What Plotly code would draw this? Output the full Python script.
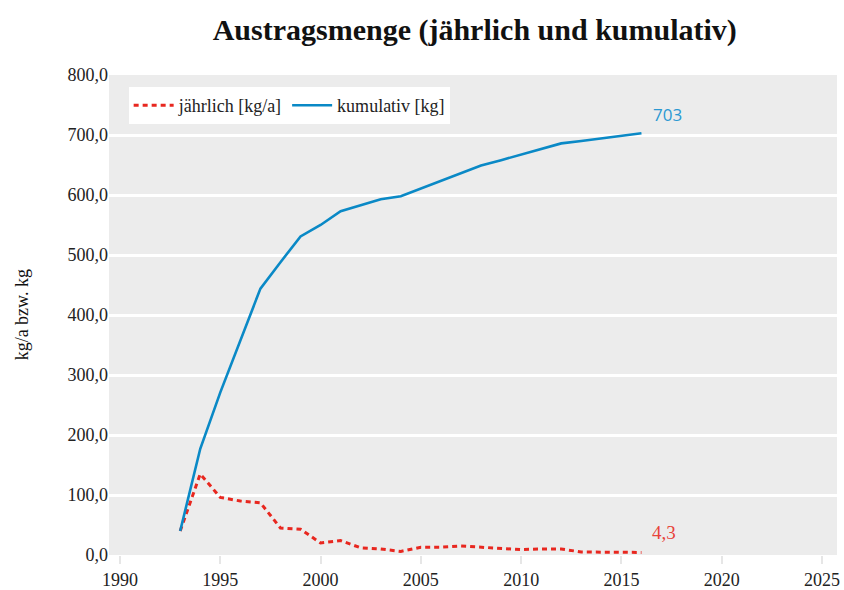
import plotly.graph_objects as go

years = list(range(1993, 2017))
annual = [40, 135, 96, 90, 87, 45, 43, 20, 24, 12, 10, 6, 13, 13, 15, 13, 10, 9, 10, 10, 5, 5, 5, 4.3]
cumulative = [40, 177, 271, 357, 444, 488, 531, 550, 573, 583, 593, 598, 611, 623, 637, 649, 658, 667, 676, 686, 690, 694, 699, 703]
x_ticks = [1990, 1995, 2000, 2005, 2010, 2015, 2020, 2025]
y_ticks = [0, 100, 200, 300, 400, 500, 600, 700, 800]

RED = "#e8271f"
BLUE = "#0a89c6"
SERIF = "Liberation Serif"

fig = go.Figure()
fig.add_trace(go.Scatter(
    x=years, y=annual, mode="lines", name="jährlich [kg/a]",
    line=dict(color=RED, width=3, dash="5px,4px"),
))
fig.add_trace(go.Scatter(
    x=years, y=cumulative, mode="lines", name="kumulativ [kg]",
    line=dict(color=BLUE, width=2.6),
))

fig.add_annotation(x=years[-1], y=cumulative[-1], text="703", showarrow=False,
                   xshift=26, yshift=19, font=dict(family="Open Sans", size=17, color="#2a98d2"))
fig.add_annotation(x=years[-1], y=annual[-1], text="4,3", showarrow=False,
                   xshift=23, yshift=20, font=dict(family=SERIF, size=19, color="#e8433a"))
fig.add_annotation(xref="paper", yref="paper", x=-0.119, y=0.5, text="kg/a bzw. kg",
                   textangle=-90, showarrow=False, xanchor="center", yanchor="middle",
                   font=dict(family=SERIF, size=18, color="#111"))

fig.update_layout(
    width=844, height=590,
    margin=dict(l=109, r=7, t=75, b=35, autoexpand=False),
    paper_bgcolor="white", plot_bgcolor="#ececec",
    separators=",.",
    font=dict(family=SERIF, size=18, color="#222"),
    title=dict(text="<b>Austragsmenge (jährlich und kumulativ)</b>", x=0.5625, xanchor="center",
               y=0.95, yanchor="middle", font=dict(family=SERIF, size=30, color="#111")),
    showlegend=True,
    legend=dict(orientation="h", x=0.027, y=0.975, xanchor="left", yanchor="top",
                bgcolor="white", font=dict(family=SERIF, size=18, color="#222"),
                itemwidth=40, tracegroupgap=0, borderwidth=0),
    xaxis=dict(range=[1989.45, 2025.75], tickvals=x_ticks, showgrid=False, zeroline=False,
               ticks="outside", ticklen=8, tickwidth=2, tickcolor="#e6e6e6", automargin=False,
               tickfont=dict(family=SERIF, size=18, color="#222"), showline=False),
    yaxis=dict(range=[0, 800], tickvals=y_ticks, tickformat=".1f", showgrid=True,
               gridcolor="white", gridwidth=2.5, zeroline=False, ticks="", automargin=False,
               tickfont=dict(family=SERIF, size=18, color="#222")),
)

fig.write_html("out.html", config={"displayModeBar": False},
               post_script="document.body.style.margin='0';document.body.style.overflow='hidden';")
